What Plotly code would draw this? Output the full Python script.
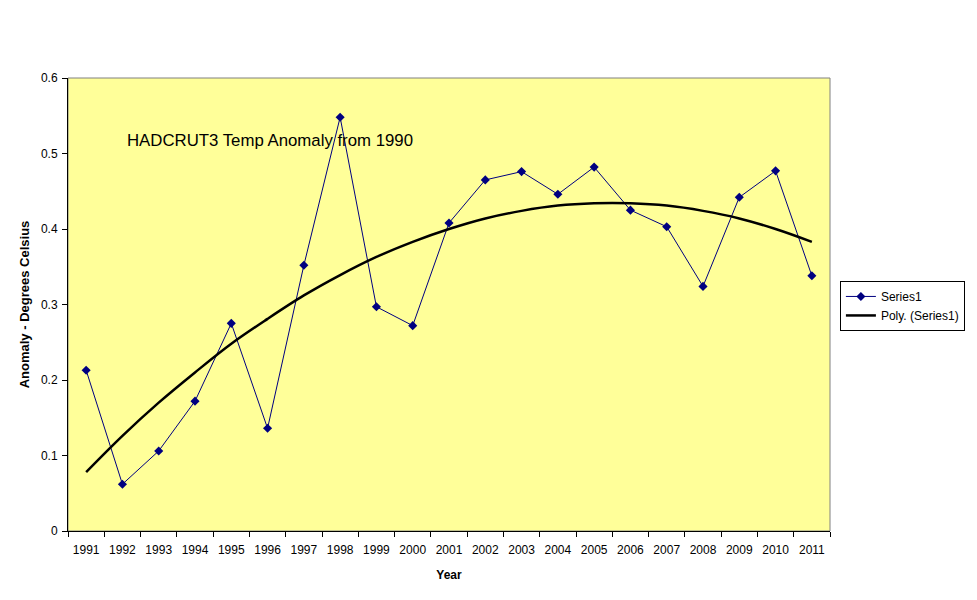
import plotly.graph_objects as go

years = [str(y) for y in range(1991, 2012)]
anomaly = [0.213, 0.062, 0.106, 0.172, 0.275, 0.136, 0.352, 0.548, 0.297, 0.272,
           0.408, 0.465, 0.476, 0.446, 0.482, 0.425, 0.403, 0.324, 0.442, 0.477, 0.338]
trend = [0.078, 0.126, 0.170, 0.210, 0.248, 0.281, 0.312, 0.339, 0.363, 0.383,
         0.400, 0.414, 0.424, 0.431, 0.434, 0.434, 0.431, 0.424, 0.414, 0.400, 0.383]
y_ticks = [0, 0.1, 0.2, 0.3, 0.4, 0.5, 0.6]
y_tick_labels = ["0", "0.1", "0.2", "0.3", "0.4", "0.5", "0.6"]

fig = go.Figure()
fig.add_trace(go.Scatter(
    x=years, y=anomaly, name="Series1", mode="lines+markers",
    line=dict(color="#000080", width=1),
    marker=dict(symbol="diamond", size=7, color="#000080"),
))
fig.add_trace(go.Scatter(
    x=years, y=trend, name="Poly. (Series1)", mode="lines",
    line=dict(color="black", width=2.5, shape="spline"),
))

font = "Liberation Sans, Arial, sans-serif"
fig.update_layout(
    width=977, height=600,
    margin=dict(l=68, r=144, t=78, b=69),
    paper_bgcolor="white", plot_bgcolor="#FFFF99",
    font=dict(family=font, size=12, color="black"),
    showlegend=True,
    legend=dict(x=1.013, y=0.552, xanchor="left", yanchor="top",
                bordercolor="black", borderwidth=1, bgcolor="white",
                font=dict(size=12), tracegroupgap=0, itemwidth=30),
    xaxis=dict(type="category", range=[-0.5, 20.5], tickson="boundaries",
               ticks="outside", ticklen=5, tickcolor="black",
               ticklabelstandoff=8,
               showline=True, linecolor="black", linewidth=1,
               showgrid=False, zeroline=False,
               title=dict(text="<b>Year</b>", standoff=14, font=dict(size=12))),
    yaxis=dict(range=[0, 0.6], tickvals=y_ticks, ticktext=y_tick_labels,
               ticks="outside", ticklen=5, tickcolor="black",
               ticklabelstandoff=2,
               showline=True, linecolor="black", linewidth=1,
               showgrid=False, zeroline=False,
               title=dict(text="<b>Anomaly - Degrees Celsius</b>", standoff=8, font=dict(size=13))),
    shapes=[dict(type="rect", xref="paper", yref="paper", x0=0, y0=0, x1=1, y1=1,
                 line=dict(color="#808080", width=1), layer="below")],
    annotations=[dict(text="HADCRUT3 Temp Anomaly from 1990", xref="paper", yref="paper",
                      x=(271 - 68) / 765, y=(531 - 140) / 453, showarrow=False,
                      xanchor="center", yanchor="middle",
                      font=dict(size=16.8, family=font, color="black"))],
)

fig.write_html("out.html")
